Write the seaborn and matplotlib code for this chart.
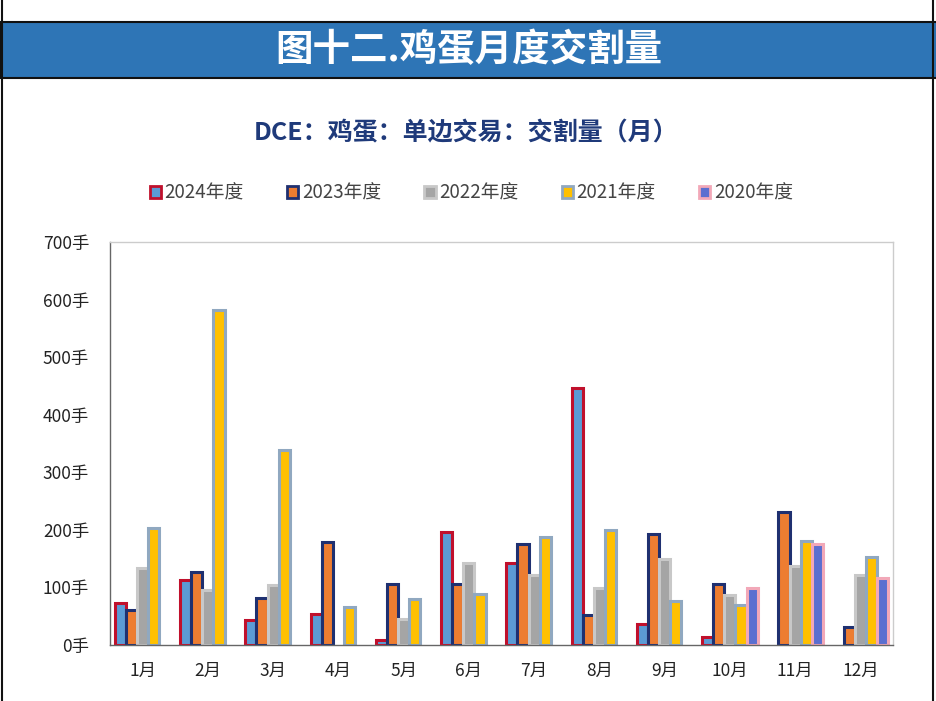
import matplotlib
matplotlib.use("Agg")
import matplotlib.pyplot as plt
import seaborn as sns
import pandas as pd
import numpy as np
from matplotlib.patches import Rectangle, Patch
from matplotlib.lines import Line2D

months = ["1月", "2月", "3月", "4月", "5月", "6月", "7月", "8月", "9月", "10月", "11月", "12月"]
years = ["2024年度", "2023年度", "2022年度", "2021年度", "2020年度"]
v2024 = [73, 113, 43, 54, 9, 196, 142, 446, 36, 14, np.nan, np.nan]
v2023 = [60, 127, 82, 179, 106, 106, 175, 52, 193, 106, 231, 31]
v2022 = [134, 96, 104, np.nan, 45, 142, 122, 99, 149, 87, 137, 122]
v2021 = [203, 582, 339, 66, 80, 89, 188, 200, 76, 70, 180, 153]
v2020 = [np.nan, np.nan, np.nan, np.nan, np.nan, np.nan, np.nan, np.nan, np.nan, 99, 176, 116]
yticks = [0, 100, 200, 300, 400, 500, 600, 700]

fills = ["#5B9BD5", "#ED7D31", "#A5A5A5", "#FFC000", "#5B6FD0"]
edges = ["#C0102C", "#1F3070", "#C8C8C8", "#90A8C0", "#F2A8B8"]

sns.set_theme(style="white")
plt.rcParams['font.family'] = ['Noto Sans CJK SC', 'DejaVu Sans']

rows = []
for y, vals in zip(years, [v2024, v2023, v2022, v2021, v2020]):
    for m, v in zip(months, vals):
        rows.append({"month": m, "year": y, "value": v})
df = pd.DataFrame(rows)

fig = plt.figure(figsize=(9.37, 7.01), dpi=100)
ax = fig.add_axes([110/937, 1-645/701, (893-110)/937, (645-242)/701])

sns.barplot(data=df, x="month", y="value", hue="year", order=months, hue_order=years,
            palette=fills, saturation=1, width=0.85, ax=ax, legend=False, errorbar=None)

for cont, ec in zip(ax.containers, edges):
    for bar in cont:
        bar.set_edgecolor(ec)
        bar.set_linewidth(2.2)

ax.set_ylim(0, 700)
ax.set_xlim(-0.5, 11.5)
ax.set_yticks(yticks)
ax.set_yticklabels([f"{t}手" for t in yticks], fontsize=12.5, color="#222222")
ax.set_xticks(np.arange(12))
ax.set_xticklabels(months, fontsize=12.5, color="#222222")
ax.tick_params(axis="x", length=0, pad=12)
ax.set_xticks(np.arange(-0.5, 12, 1), minor=True)
ax.tick_params(axis="x", which="minor", length=6, direction="out", color="#555555", width=1)
ax.tick_params(axis="y", length=5, direction="out", color="#555555", width=1, pad=10)
ax.set_xlabel("")
ax.set_ylabel("")
for s in ["left", "bottom"]:
    ax.spines[s].set_color("#666666")
    ax.spines[s].set_linewidth(1)
for s in ["top", "right"]:
    ax.spines[s].set_color("#CCCCCC")
    ax.spines[s].set_linewidth(1)

# title bar
fig.patches.append(Rectangle((0, 1-78/701), 1, 56/701, transform=fig.transFigure,
                             facecolor="#2E75B6", edgecolor="#111111", linewidth=1.5, zorder=0))
fig.text(0.5, 1-50/701, "图十二.鸡蛋月度交割量", ha="center", va="center", color="white",
         fontsize=27, fontweight="bold")
fig.add_artist(Line2D([2/937, 2/937], [0, 1], transform=fig.transFigure, color="#111111", lw=1.5))
fig.add_artist(Line2D([933/937, 933/937], [0, 1], transform=fig.transFigure, color="#111111", lw=1.5))

fig.text(0.497, 1-133/701, "DCE：鸡蛋：单边交易：交割量（月）", ha="center", va="center",
         color="#1F3A7A", fontsize=18, fontweight="bold")

handles = [Patch(facecolor=f, edgecolor=e, linewidth=2) for f, e in zip(fills, edges)]
fig.legend(handles, years, loc="center", bbox_to_anchor=(0.503, 1-193/701), ncol=5, frameon=False,
           fontsize=13.5, handlelength=0.6, handleheight=0.6, handletextpad=0.2, columnspacing=2.3,
           labelcolor="#444444")

fig.savefig("out.png", dpi=100, facecolor="white")
